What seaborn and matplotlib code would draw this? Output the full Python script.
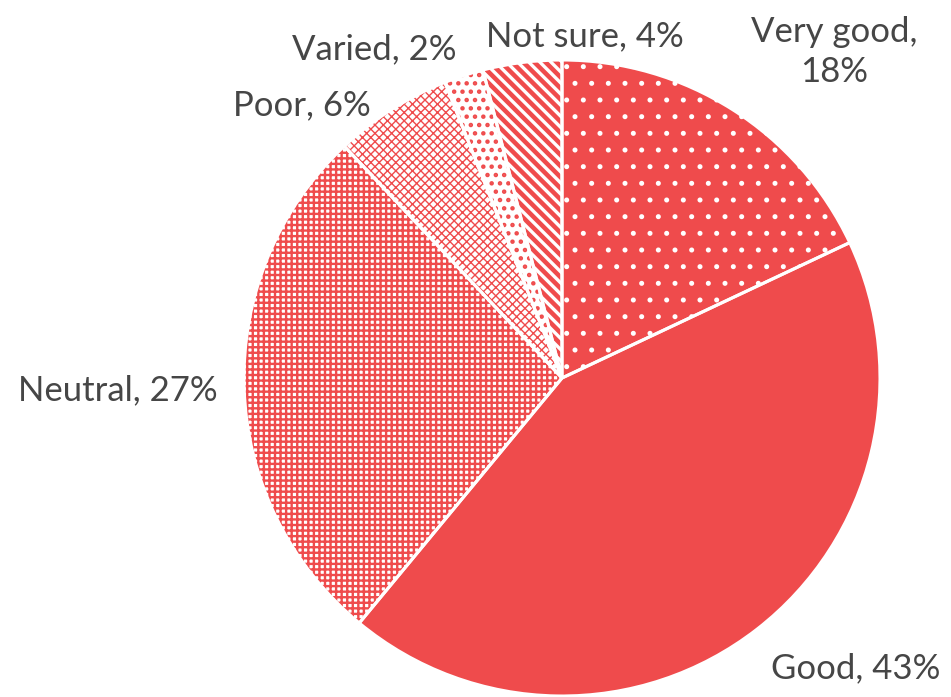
import matplotlib
matplotlib.use("Agg")
import matplotlib.pyplot as plt
import seaborn as sns

categories = ["Very good", "Good", "Neutral", "Poor", "Varied", "Not sure"]
values = [18, 43, 27, 6, 2, 4]
labels = ["Very good,\n18%", "Good, 43%", "Neutral, 27%", "Poor, 6%", "Varied, 2%", "Not sure, 4%"]

# layout (data coords, pie radius = 1)
label_pos = [(0.856, 1.025), (0.925, -0.912), (-1.397, -0.04), (-0.819, 0.859), (-0.591, 1.034), (0.072, 1.075)]

sns.set_theme(style="white")
plt.rcParams['font.family'] = ['Lato', 'DejaVu Sans']

RED = "#EF4B4C"
faces = [RED, RED, "white", "white", "white", RED]
hatch_cols = ["white", RED, RED, RED, RED, "white"]
hatches = [".", "", "+++", "xxxx", "..", "\\\\\\"]
hatch_lw = [1.2, 1.0, 1.7, 1.0, 2.0, 2.4]

fig = plt.figure(figsize=(9.51, 6.97), dpi=100)
R = 318
cx, cy = 562, 378
ax = fig.add_axes([(cx - R) / 951, (697 - cy - R) / 697, 2 * R / 951, 2 * R / 697])
ax.set_xlim(-1, 1)
ax.set_ylim(-1, 1)
ax.axis("off")

wedges, _ = ax.pie(values, startangle=90, counterclock=False, radius=1,
                   wedgeprops=dict(linewidth=0))
for w, fc, hc, h, lw in zip(wedges, faces, hatch_cols, hatches, hatch_lw):
    w.set_facecolor(fc)
    w.set_edgecolor(hc)
    w.set_hatch(h)
    if hasattr(w, "set_hatch_linewidth"):
        w.set_hatch_linewidth(lw)
    else:
        w._hatch_linewidth = lw

# white separators
ax.pie(values, startangle=90, counterclock=False, radius=1,
       wedgeprops=dict(fill=False, edgecolor="white", linewidth=2.2))
ax.set_xlim(-1, 1)
ax.set_ylim(-1, 1)

for lab, (x, y) in zip(labels, label_pos):
    ax.text(x, y, lab, ha="center", va="center", fontsize=25, color="#464646",
            fontweight="normal", clip_on=False, linespacing=1.3)

fig.savefig("out.png", dpi=100)
